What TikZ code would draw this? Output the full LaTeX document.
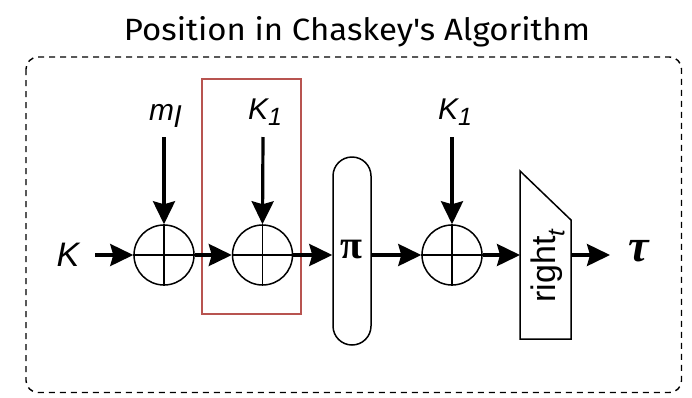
\documentclass[tikz,border=0pt]{standalone}
\usepackage{fontspec}
\setmainfont{Liberation Sans}
\newfontfamily\titlefont{Fira Sans}
\newfontfamily\greekfont{Liberation Serif}
\usetikzlibrary{arrows.meta}
\definecolor{redbox}{HTML}{B85450}
\tikzset{
  xorop/.style={circle, draw, line width=1.5pt, minimum size=60pt, inner sep=0pt},
  flow/.style={line width=3.2pt, -{Stealth[length=23pt,width=22pt,inset=3pt]}},
  lbl/.style={font=\fontsize{30}{34}\selectfont\itshape, inner sep=0pt},
  bigl/.style={font=\fontsize{34}{38}\selectfont\itshape, inner sep=0pt},
}
\begin{document}
\begin{tikzpicture}[x=1pt,y=-1pt]
\useasboundingbox (0,0) rectangle (692,397);
% title
\node[inner sep=0pt, anchor=base] (title) at (357,40)
  {\resizebox{466pt}{24pt}{\titlefont Position in Chaskey's Algorithm}};
% dashed frame
\draw[line width=1.4pt, dash pattern=on 6pt off 5pt, rounded corners=12pt]
  (26,57) rectangle (681.5,392.5);
% red box
\draw[redbox, line width=1.2pt] (202,79) rectangle (301,314);
% xor nodes
\node[xorop] (x1) at (164,255) {};
\node[xorop] (x2) at (262.5,255) {};
\node[xorop] (x3) at (452,255) {};
\foreach \n in {x1,x2,x3}{
  \draw[line width=1.5pt] (\n.north) -- (\n.south) (\n.west) -- (\n.east);
}
% pi box
\node[draw, line width=1.5pt, rounded corners=19pt, minimum width=38pt,
      minimum height=188pt, inner sep=0pt] (pi) at (352,251) {};
\node[inner sep=0pt, font=\fontsize{40}{44}\selectfont\greekfont\bfseries] (pisym) at (351.5,250) {π};
% truncation box
\draw[line width=1.5pt] (520,171) -- (571,220) -- (571,339) -- (520,339) -- cycle;
\coordinate (trL) at (520,255);
\coordinate (trR) at (571,255);
\node[rotate=90, inner sep=0pt, font=\fontsize{34}{36}\selectfont] (rt) at (548,266)
  {right\raisebox{-0.25em}{\fontsize{24}{26}\selectfont\itshape t}};
% labels
\node[bigl] (K) at (68,255) {K};
\node[lbl, anchor=base] (ml) at (165,120) {m\raisebox{-0.25em}{l}};
\node[lbl, anchor=base] (k1a) at (265,119) {K\raisebox{-0.2em}{\fontsize{25}{27}\selectfont 1}};
\node[lbl, anchor=base] (k1b) at (455,119) {K\raisebox{-0.2em}{\fontsize{25}{27}\selectfont 1}};
\node[inner sep=0pt, font=\fontsize{46}{50}\selectfont\greekfont\bfseries\itshape] (tau) at (639,251) {τ};
\coordinate (mlS) at (164,137);
\coordinate (k1aS) at (263,137);
\coordinate (k1bS) at (452,137);
\coordinate (Kend) at (95,255);
\coordinate (tauS) at (610,255);
% flows
\draw[flow] (mlS) -- (x1.north);
\draw[flow] (k1aS) -- (x2.north);
\draw[flow] (k1bS) -- (x3.north);
\draw[flow] (Kend) -- (x1.west);
\draw[flow] (x1.east) -- (x2.west);
\draw[flow] (x2.east) -- (pi.west |- x2.east);
\draw[flow] (pi.east |- x3.west) -- (x3.west);
\draw[flow] (x3.east) -- (trL);
\draw[flow] (trR) -- (tauS);
\end{tikzpicture}
\end{document}
